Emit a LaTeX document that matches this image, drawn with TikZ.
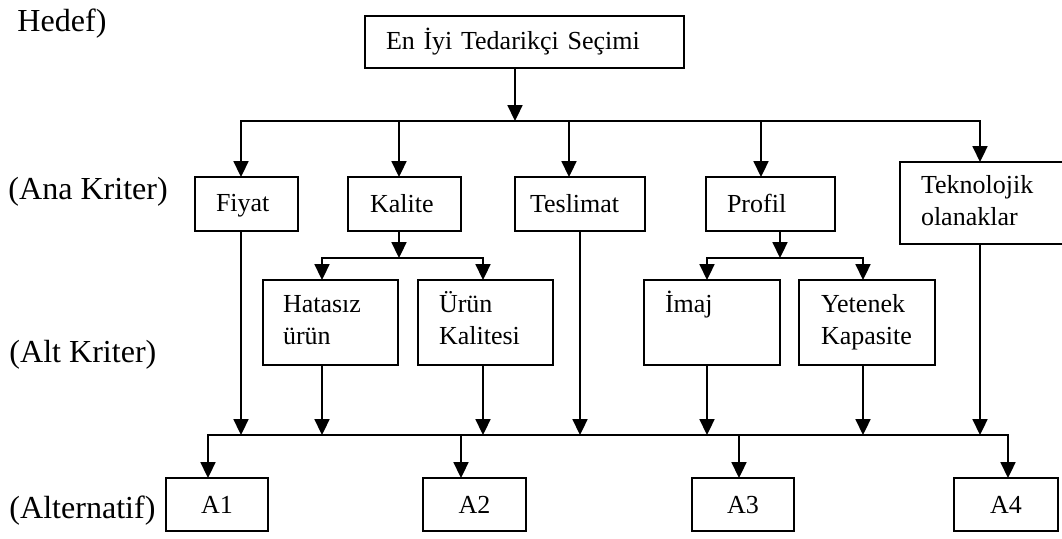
\documentclass[tikz,border=0pt]{standalone}
\usepackage{fontspec}
\setmainfont{Liberation Serif}
\usetikzlibrary{arrows.meta}

% framed box given by its corners (pixel grid), left text inset and text
\newcommand\kutu[8][]{%
  \pgfmathsetmacro\kutuW{(#5-#3)*0.4615}%
  \pgfmathsetmacro\kutuH{(#6-#4)*0.4615}%
  \pgfmathsetmacro\kutuI{#7*0.4615}%
  \pgfmathsetmacro\kutuT{(#5-#3-2*#7)*0.4615}%
  \node[box, #1, anchor=north west, minimum width=\kutuW pt, minimum height=\kutuH pt,
        inner xsep=\kutuI pt, text width=\kutuT pt] (#2) at (#3,#4) {#8};}
% alternative boxes with centred text
\newcommand\akutu[6]{%
  \pgfmathsetmacro\kutuW{(#4-#2)*0.4615}%
  \pgfmathsetmacro\kutuH{(#5-#3)*0.4615}%
  \node[box, oneline, align=center, anchor=north west, minimum width=\kutuW pt,
        minimum height=\kutuH pt, inner xsep=0pt] (#1) at (#2,#3) {#6};}

\begin{document}
\begin{tikzpicture}[x=0.4615pt, y=-0.4615pt,
  box/.style={draw, line width=0.75pt, outer sep=0pt, inner ysep=0pt, align=left,
              font=\fontsize{12pt}{14.8pt}\selectfont},
  oneline/.style={execute at begin node={\rule[-1.8pt]{0pt}{11.5pt}}},
  twoline/.style={execute at begin node=\strut, execute at end node=\strut},
  arr/.style={line width=0.8pt, -{Triangle[length=7.3pt, width=6.9pt]}},
  bus/.style={line width=0.8pt, line cap=rect},
  lvl/.style={anchor=base west, inner sep=0pt, font=\fontsize{14.8pt}{17pt}\selectfont}]
\useasboundingbox (0,0) rectangle (1062,538);
\clip (0,0) rectangle (1062,538);

% level labels
\node[lvl] (hedef) at (17,32) {Hedef)};
\node[lvl] (anakriter) at (8,199) {(Ana Kriter)};
\node[lvl] (altkriter) at (9,362) {(Alt Kriter)};
\node[lvl] (alternatif) at (9,518) {(Alternatif)};

% goal
\kutu[oneline]{top}{365}{16}{684}{68}{21}{En İyi Tedarikçi Seçimi}

% main criteria
\kutu[oneline]{fiyat}{195}{177}{298}{231}{21}{Fiyat}
\kutu[oneline]{kalite}{348}{177}{461}{231}{22}{Kalite}
\kutu[oneline]{teslimat}{515}{177}{645}{231}{15}{Teslimat}
\kutu[oneline]{profil}{706}{177}{835}{231}{21}{Profil}
\kutu[twoline]{tekno}{900}{162}{1075}{244}{21}{Teknolojik\\olanaklar}

% sub criteria
\kutu[twoline]{hatasiz}{263}{280}{398}{365}{20}{Hatasız\\ürün}
\kutu[twoline]{urun}{418}{280}{553}{365}{21}{Ürün\\Kalitesi}
\kutu[twoline]{imaj}{644}{280}{780}{365}{21}{İmaj\\\phantom{K}}
\kutu[twoline]{yetenek}{799}{280}{935}{365}{22}{Yetenek\\Kapasite}

% alternatives
\akutu{a1}{166}{478}{268}{531}{A1}
\akutu{a2}{423}{478}{526}{531}{A2}
\akutu{a3}{692}{478}{794}{531}{A3}
\akutu{a4}{954}{478}{1058}{531}{A4}

% bus junctions
\coordinate (c0) at (515,121);
\coordinate (b1L) at (241,121);
\coordinate (b1k) at (399,121);
\coordinate (b1t) at (569,121);
\coordinate (b1p) at (761,121);
\coordinate (b1R) at (980,121);
\coordinate (kM) at (399,258);
\coordinate (kL) at (322,258);
\coordinate (kR) at (483,258);
\coordinate (pM) at (780,258);
\coordinate (pL) at (707,258);
\coordinate (pR) at (863,258);
\coordinate (bL) at (208,435);
\coordinate (bR) at (1008,435);
\coordinate (tO) at (580,435);
\coordinate (a2in) at (461,435);
\coordinate (a3in) at (739,435);

% goal -> main criteria
\draw[arr] (top.south -| c0) -- (c0);
\draw[bus] (b1L) -- (b1R);
\draw[arr] (b1L) -- (fiyat.north -| b1L);
\draw[arr] (b1k) -- (kalite.north -| b1k);
\draw[arr] (b1t) -- (teslimat.north -| b1t);
\draw[arr] (b1p) -- (profil.north -| b1p);
\draw[arr] (b1R) -- (tekno.north -| b1R);

% main criteria -> sub criteria
\draw[arr] (kalite.south -| kM) -- (kM);
\draw[bus] (kL) -- (kR);
\draw[arr] (kL) -- (hatasiz.north -| kL);
\draw[arr] (kR) -- (urun.north -| kR);
\draw[arr] (profil.south -| pM) -- (pM);
\draw[bus] (pL) -- (pR);
\draw[arr] (pL) -- (imaj.north -| pL);
\draw[arr] (pR) -- (yetenek.north -| pR);

% criteria -> alternatives bus
\draw[arr] (fiyat.south -| b1L) -- (b1L |- bL);
\draw[arr] (hatasiz.south -| kL) -- (kL |- bL);
\draw[arr] (urun.south -| kR) -- (kR |- bL);
\draw[arr] (teslimat.south -| tO) -- (tO);
\draw[arr] (imaj.south -| pL) -- (pL |- bL);
\draw[arr] (yetenek.south -| pR) -- (pR |- bL);
\draw[arr] (tekno.south -| b1R) -- (b1R |- bL);
\draw[bus] (bL) -- (bR);

% bus -> alternatives
\draw[arr] (bL) -- (a1.north -| bL);
\draw[arr] (a2in) -- (a2.north -| a2in);
\draw[arr] (a3in) -- (a3.north -| a3in);
\draw[arr] (bR) -- (a4.north -| bR);
\end{tikzpicture}
\end{document}
